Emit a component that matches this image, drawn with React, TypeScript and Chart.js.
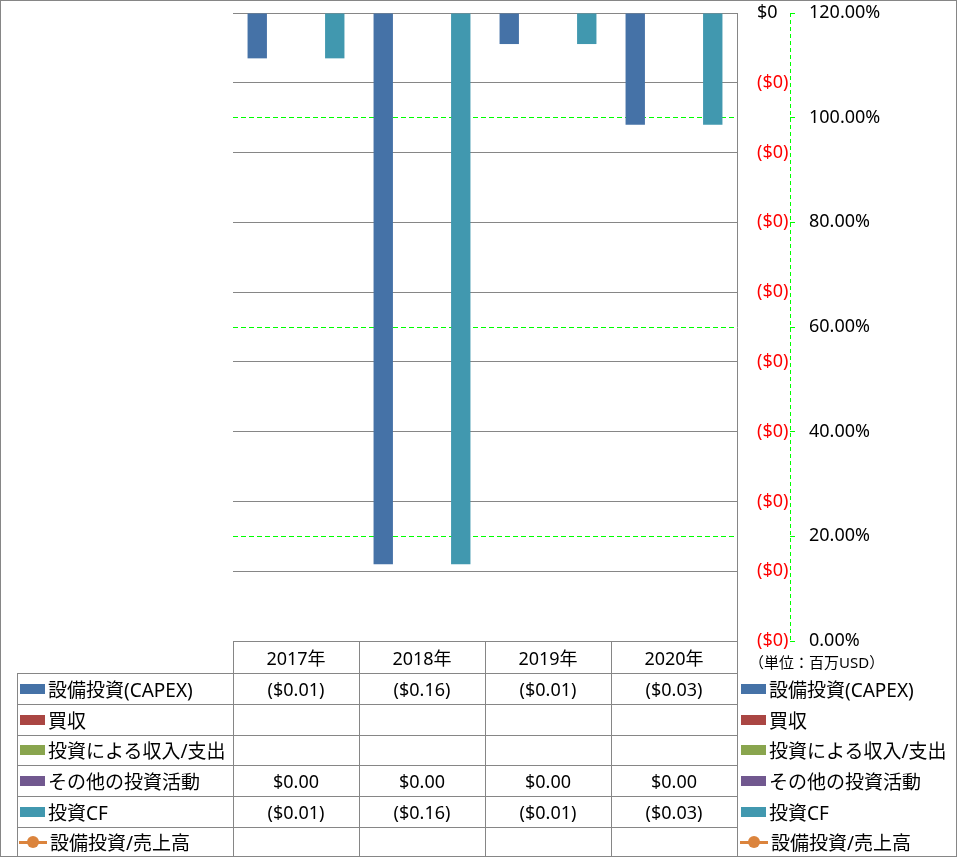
import React, { useEffect, useRef } from "react";
import { Chart, registerables } from "chart.js";
Chart.register(...registerables);

// ---- data ----
const years = ["2017年", "2018年", "2019年", "2020年"];
const capex = [-0.013, -0.158, -0.0089, -0.032];
const acquisition: (number | null)[] = [null, null, null, null];
const investIncome: (number | null)[] = [null, null, null, null];
const otherInvest = [0, 0, 0, 0];
const investCF = [-0.013, -0.158, -0.0089, -0.032];
const capexRatio: (number | null)[] = [null, null, null, null];
const seriesNames = ["設備投資(CAPEX)", "買収", "投資による収入/支出", "その他の投資活動", "投資CF", "設備投資/売上高"];
const usdMin = -0.18;
const usdMax = 0;
const usdStep = 0.02;
const pctMin = 0;
const pctMax = 120;
const pctStep = 20;
const pctRefLines = [20, 60, 100];
const unitLabel = "（単位：百万USD）";

// ---- style ----
const colors = ["#4572A7", "#AA4643", "#89A54E", "#71588F", "#4198AF", "#DB843D"];
const FONT = "'Noto Sans', 'Noto Sans CJK JP', sans-serif";
const GRAY = "#868686";
const GREEN = "#00ff00";
const W = 957, H = 858;
const colX = [233, 359, 485, 611, 737];
const rowY = [641, 673, 704, 735, 765, 796, 827, 857];

const fmtUsd = (v: number | null) => {
  if (v === null || v === undefined) return "";
  const a = Math.abs(v).toFixed(2);
  return v < -0.00001 ? `($${a})` : `$${a}`;
};

const y1AxisLine = {
  id: "y1AxisLine",
  afterDraw(chart: any) {
    const s = chart.scales.y1;
    const ctx = chart.ctx;
    ctx.save();
    ctx.strokeStyle = GREEN;
    ctx.lineWidth = 1;
    ctx.setLineDash([4, 3]);
    const x = Math.round(s.left) + 0.5;
    ctx.beginPath();
    ctx.moveTo(x, s.top);
    ctx.lineTo(x, s.bottom);
    ctx.stroke();
    ctx.restore();
  },
};

function Swatch({ i }: { i: number }) {
  if (i === 5) {
    return (
      <div style={{ position: "relative", width: 28, height: 14, marginRight: 3 }}>
        <div style={{ position: "absolute", left: 0, top: 5.5, width: 28, height: 3, background: colors[5] }} />
        <div style={{ position: "absolute", left: 8, top: 1, width: 12, height: 12, borderRadius: 6, background: colors[5] }} />
      </div>
    );
  }
  return <div style={{ width: 25, height: 10, background: colors[i], marginRight: 3, marginLeft: 1 }} />;
}

export default function App() {
  const ref = useRef<HTMLCanvasElement>(null);
  useEffect(() => {
    document.body.style.margin = "0";
    const ctx = ref.current!.getContext("2d")!;
    const barData = [capex, acquisition, investIncome, otherInvest, investCF];
    const chart = new Chart(ctx, {
      data: {
        labels: years,
        datasets: [
          ...barData.map((d, i) => ({
            type: "bar" as const,
            label: seriesNames[i],
            data: d,
            backgroundColor: colors[i],
            yAxisID: "y",
            barPercentage: 1,
            categoryPercentage: 0.769,
            order: 2,
          })),
          {
            type: "line" as const,
            label: seriesNames[5],
            data: capexRatio,
            borderColor: colors[5],
            backgroundColor: colors[5],
            yAxisID: "y1",
            order: 1,
          },
        ],
      } as any,
      options: {
        responsive: false,
        animation: false,
        layout: { padding: { left: 233, top: 13, right: 47, bottom: 217 } },
        plugins: { legend: { display: false }, tooltip: { enabled: false } },
        scales: {
          x: { display: false },
          y: {
            position: "right",
            min: usdMin,
            max: usdMax,
            ticks: {
              stepSize: usdStep,
              padding: 20,
              font: { family: FONT, size: 18 },
              color: (c: any) => (c.tick.value < -1e-9 ? "#ff0000" : "#000000"),
              callback: (v: any) => (Number(v) < -1e-9 ? "($0)" : "$0"),
            },
            grid: { color: GRAY, drawTicks: false },
            border: { display: true, color: GRAY },
            afterFit: (s: any) => { s.width = 53; s.paddingTop = 0; s.paddingBottom = 0; },
          },
          y1: {
            position: "right",
            min: pctMin,
            max: pctMax,
            ticks: {
              stepSize: pctStep,
              padding: 14,
              font: { family: FONT, size: 18 },
              color: "#000000",
              callback: (v: any) => Number(v).toFixed(2) + "%",
            },
            grid: {
              color: (c: any) => (c.tick && pctRefLines.includes(c.tick.value) ? GREEN : "rgba(0,0,0,0)"),
              tickColor: GREEN,
              tickLength: 5,
            },
            border: { display: false, dash: [5, 3] },
            afterFit: (s: any) => { s.width = 120; s.paddingTop = 0; s.paddingBottom = 0; },
          },
        },
      } as any,
      plugins: [y1AxisLine],
    });
    return () => chart.destroy();
  }, []);

  const tableRows = [capex, acquisition, investIncome, otherInvest, investCF, capexRatio];
  const line = (l: number, t: number, w: number, h: number, k: string) => (
    <div key={k} style={{ position: "absolute", left: l, top: t, width: w, height: h, background: GRAY }} />
  );
  const lines: any[] = [];
  lines.push(line(colX[0], rowY[0], colX[4] - colX[0] + 1, 1, "h0"));
  for (let r = 1; r < rowY.length - 1; r++) lines.push(line(17, rowY[r], colX[4] - 17 + 1, 1, "h" + r));
  lines.push(line(17, rowY[1], 1, rowY[7] - rowY[1], "v17"));
  for (let c = 0; c < 4; c++) lines.push(line(colX[c], rowY[0], 1, rowY[7] - rowY[0], "v" + c));
  lines.push(line(colX[4], rowY[0], 1, rowY[7] - rowY[0], "v4"));

  const textStyle: any = { fontFamily: FONT, fontSize: 18, color: "#000", whiteSpace: "nowrap" };
  const legendStyle: any = { ...textStyle, fontSize: 19 };

  return (
    <div style={{ position: "absolute", left: 0, top: 0, width: W, height: H, background: "#fff" }}>
      <canvas ref={ref} width={W} height={H} style={{ position: "absolute", left: 0, top: 0 }} />
      <div style={{ position: "absolute", left: 0, top: 0, width: W, height: H - 1, border: `1px solid ${GRAY}`, boxSizing: "border-box" }} />
      {lines}
      {years.map((y, c) => (
        <div key={"yr" + c} style={{ ...textStyle, position: "absolute", left: colX[c], top: rowY[0], width: colX[c + 1] - colX[c], height: rowY[1] - rowY[0], display: "flex", alignItems: "center", justifyContent: "center" }}>{y}</div>
      ))}
      {tableRows.map((row, r) => (
        <React.Fragment key={"r" + r}>
          <div style={{ ...legendStyle, position: "absolute", left: 19, top: rowY[r + 1], height: rowY[r + 2] - rowY[r + 1], display: "flex", alignItems: "center" }}>
            <Swatch i={r} />
            {seriesNames[r]}
          </div>
          {row.map((v, c) => (
            <div key={"c" + c} style={{ ...textStyle, position: "absolute", left: colX[c], top: rowY[r + 1], width: colX[c + 1] - colX[c], height: rowY[r + 2] - rowY[r + 1], display: "flex", alignItems: "center", justifyContent: "center" }}>{r === 5 ? "" : fmtUsd(v as any)}</div>
          ))}
          <div style={{ ...legendStyle, position: "absolute", left: 740, top: rowY[r + 1], height: rowY[r + 2] - rowY[r + 1], display: "flex", alignItems: "center" }}>
            <Swatch i={r} />
            {seriesNames[r]}
          </div>
        </React.Fragment>
      ))}
      <div style={{ ...textStyle, fontSize: 15, position: "absolute", left: 749, top: 650, height: 22, display: "flex", alignItems: "center" }}>{unitLabel}</div>
    </div>
  );
}
